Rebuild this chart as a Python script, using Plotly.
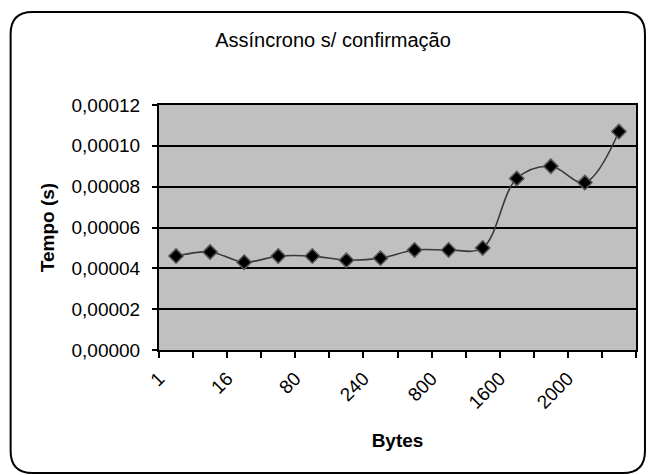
import plotly.graph_objects as go

# Message size categories (bytes); only every other category carries a label
n_categories = 14
label_positions = [0, 2, 4, 6, 8, 10, 12]
tick_labels = ["1", "16", "80", "240", "800", "1600", "2000"]

# Mean time per message (seconds)
tempo = [4.6e-5, 4.8e-5, 4.3e-5, 4.6e-5, 4.6e-5, 4.4e-5, 4.5e-5,
         4.9e-5, 4.9e-5, 5.0e-5, 8.4e-5, 9.0e-5, 8.2e-5, 10.7e-5]

y_ticks = [0, 2e-5, 4e-5, 6e-5, 8e-5, 10e-5, 12e-5]

W, H = 649, 475
ML, MR, MT, MB = 159, 11, 105, 125
PW, PH = W - ML - MR, H - MT - MB

FONT = "Liberation Sans, Arial, sans-serif"

# rotated labels sit a little left of their category centre
LABEL_SHIFT = -0.5


def px2paper(x, y):
    return (x - ML) / PW, (H - MB - y) / PH


def rounded_frame(x0, y0, x1, y1, r):
    pts = [
        ("M", (x0 + r, y0)),
        ("L", (x1 - r, y0)), ("Q", (x1, y0), (x1, y0 + r)),
        ("L", (x1, y1 - r)), ("Q", (x1, y1), (x1 - r, y1)),
        ("L", (x0 + r, y1)), ("Q", (x0, y1), (x0, y1 - r)),
        ("L", (x0, y0 + r)), ("Q", (x0, y0), (x0 + r, y0)),
    ]
    out = []
    for cmd, *ps in pts:
        coords = " ".join("%.5f,%.5f" % px2paper(*p) for p in ps)
        out.append(cmd + " " + coords)
    return " ".join(out) + " Z"


x_idx = list(range(n_categories))

fig = go.Figure()
fig.add_trace(go.Scatter(
    x=x_idx,
    y=tempo,
    mode="lines+markers",
    line=dict(color="#3a3a3a", width=1.6, shape="spline", smoothing=1.0),
    marker=dict(symbol="diamond", size=11, color="#000000",
                line=dict(color="#555555", width=1.5)),
    showlegend=False,
))

fig.update_layout(
    width=W,
    height=H,
    margin=dict(l=ML, r=MR, t=MT, b=MB),
    paper_bgcolor="white",
    plot_bgcolor="#C0C0C0",
    separators=",.",
    font=dict(family=FONT, size=19, color="black"),
    title=dict(text="Assíncrono s/ confirmação", x=333 / W, xref="container",
               xanchor="center", y=1 - 40 / H, yref="container",
               yanchor="middle",
               font=dict(family=FONT, size=20, color="black")),
    xaxis=dict(
        range=[-0.5, n_categories - 0.5],
        tickmode="array",
        tickvals=[p + LABEL_SHIFT for p in label_positions],
        ticktext=tick_labels,
        tickangle=-45,
        ticks="outside",
        ticklen=0,
        ticklabelstandoff=8,
        tickfont=dict(family=FONT, size=19),
        showgrid=False,
        zeroline=False,
        showline=True,
        linecolor="black",
        linewidth=2,
        mirror=True,
        minor=dict(tickvals=[i - 0.5 for i in range(n_categories + 1)],
                   ticks="outside", ticklen=6, tickcolor="black",
                   tickwidth=2, showgrid=False),
        title=dict(text="<b>Bytes</b>", standoff=22,
                   font=dict(family=FONT, size=19)),
    ),
    yaxis=dict(
        range=[0, 12e-5],
        tickmode="array",
        tickvals=y_ticks,
        tickformat=".5f",
        ticks="outside",
        ticklen=5,
        tickwidth=2,
        tickcolor="black",
        ticklabelstandoff=8,
        tickfont=dict(family=FONT, size=19),
        showgrid=True,
        gridcolor="black",
        gridwidth=2,
        zeroline=False,
        showline=True,
        linecolor="black",
        linewidth=2,
        mirror=True,
        title=dict(text="<b>Tempo (s)</b>", standoff=12,
                   font=dict(family=FONT, size=19)),
    ),
    shapes=[dict(
        type="path",
        xref="paper", yref="paper",
        path=rounded_frame(10, 12, 647, 473, 22),
        line=dict(color="black", width=2),
        layer="above",
    )],
)

fig.write_html("out.html")
